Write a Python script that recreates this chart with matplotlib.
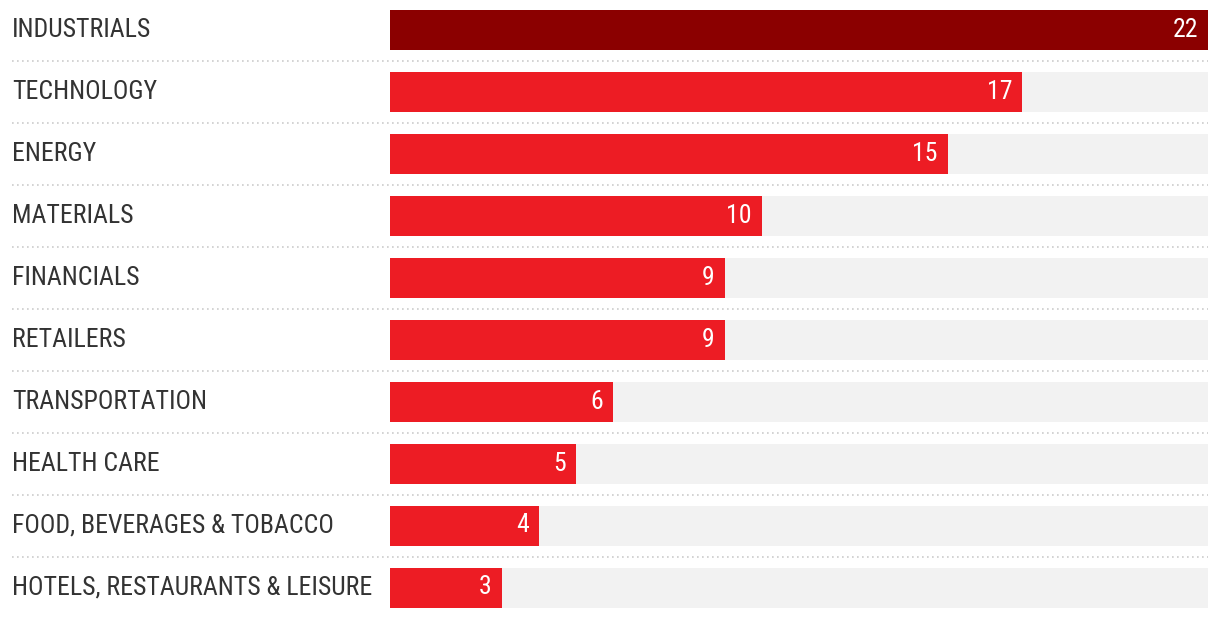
import matplotlib
matplotlib.use("Agg")
import matplotlib.pyplot as plt
from matplotlib import font_manager
from matplotlib.transforms import blended_transform_factory

sectors = ["INDUSTRIALS", "TECHNOLOGY", "ENERGY", "MATERIALS", "FINANCIALS",
           "RETAILERS", "TRANSPORTATION", "HEALTH CARE",
           "FOOD, BEVERAGES & TOBACCO", "HOTELS, RESTAURANTS & LEISURE"]
counts = [22, 17, 15, 10, 9, 9, 6, 5, 4, 3]
max_count = 22

installed = {f.name for f in font_manager.fontManager.ttflist}
family = "DejaVu Sans"
for name in ["Roboto Condensed", "Liberation Sans Narrow", "Roboto"]:
    if name in installed:
        family = name
        break
plt.rcParams["font.family"] = [family, "DejaVu Sans"]

W, H = 1220, 618
fig = plt.figure(figsize=(W / 100, H / 100), dpi=100)
ax = fig.add_axes([390 / W, 0, (1208 - 390) / W, 1])

ypos = list(range(len(sectors)))
ax.set_xlim(0, max_count)
ax.set_ylim((H - 29.5) / 62, -29.5 / 62)
ax.axis("off")

bar_h = 40 / 62
ax.barh(ypos, [max_count] * len(ypos), height=bar_h, color="#f2f2f2")
colors = ["#8b0000"] + ["#ed1c24"] * (len(counts) - 1)
ax.barh(ypos, counts, height=bar_h, color=colors)

trans = blended_transform_factory(fig.transFigure, ax.transData)
for i, (name, val) in enumerate(zip(sectors, counts)):
    ax.text(12 / W, i, name, transform=trans, ha="left", va="center",
            fontsize=18.5, color="#333333")
    ax.annotate(str(val), (val, i), xytext=(-10, 0), textcoords="offset pixels",
                ha="right", va="center", fontsize=18.5, color="white")
    if i < len(sectors) - 1:
        ax.plot([12 / W, 1208 / W], [i + 0.5, i + 0.5], transform=trans,
                color="#cccccc", lw=1.2, ls=(0, (1, 2)), clip_on=False)

fig.savefig("out.png", dpi=100)
